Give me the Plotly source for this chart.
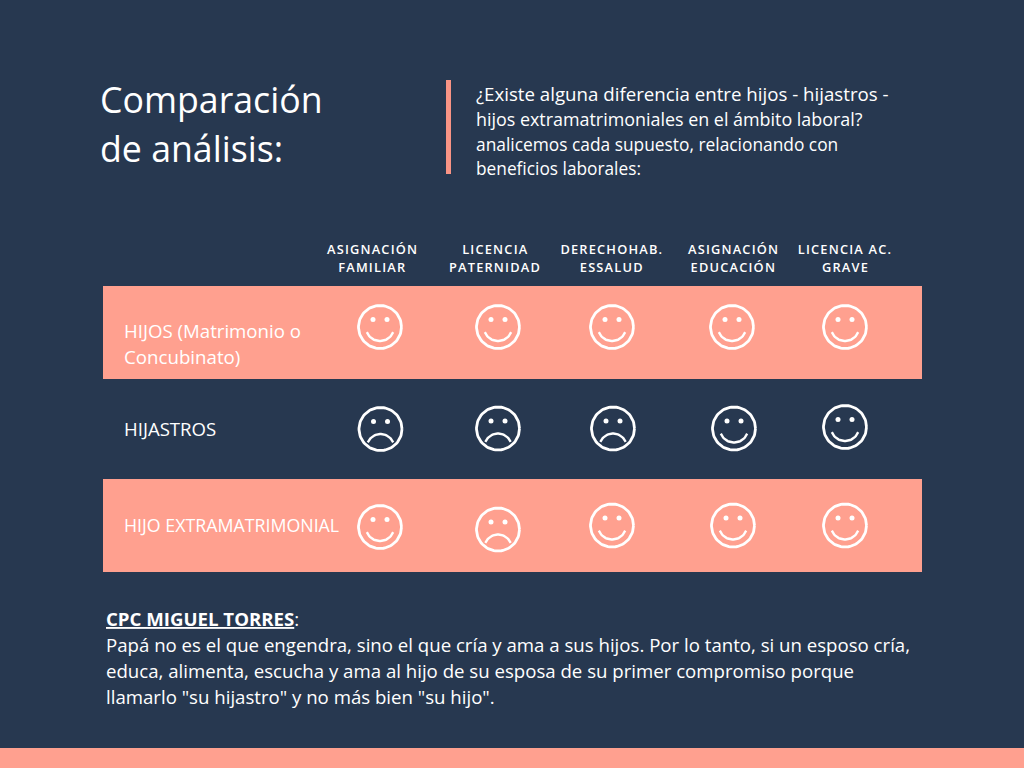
import numpy as np
import plotly.graph_objects as go

# --- data ---
criteria = [["ASIGNACIÓN", "FAMILIAR"], ["LICENCIA", "PATERNIDAD"], ["DERECHOHAB.", "ESSALUD"],
            ["ASIGNACIÓN", "EDUCACIÓN"], ["LICENCIA AC.", "GRAVE"]]
row_labels = [["HIJOS (Matrimonio o", "Concubinato)"], ["HIJASTROS"], ["HIJO EXTRAMATRIMONIAL"]]
happy = [[1, 1, 1, 1, 1],
         [0, 0, 0, 1, 1],
         [1, 0, 1, 1, 1]]
title_lines = ["Comparación", "de análisis:"]
intro_lines = ["¿Existe alguna diferencia entre hijos - hijastros -",
               "hijos extramatrimoniales en el ámbito laboral?",
               "analicemos cada supuesto, relacionando con",
               "beneficios laborales:"]
note_lines = ["<b><u>CPC MIGUEL TORRES</u></b>:",
              "Papá no es el que engendra, sino el que cría y ama a sus hijos. Por lo tanto, si un esposo cría,",
              "educa, alimenta, escucha y ama al hijo de su esposa de su primer compromiso porque",
              "llamarlo \"su hijastro\" y no más bien \"su hijo\"."]

# --- layout ---
BG = "#273850"
SALMON = "#FFA08F"
WHITE = "#FFFFFF"
FONT = "Open Sans"
face_x = [[380, 498, 612, 732, 845],
          [380.5, 498, 613, 734, 845],
          [380, 498, 612, 733, 845]]
face_y = [[327, 327, 327, 327, 327],
          [429, 428.5, 428.5, 428.5, 427],
          [527, 529.5, 525.5, 525.5, 525.5]]
header_x = [372.5, 495, 612, 733.5, 845]
intro_sizes = [18.7, 17.9, 17.35, 17.3]
row_sizes = [[18.65, 18.7], [18.6], [17.8]]
R = 21.5

fig = go.Figure()
t = np.linspace(0, 2 * np.pi, 90)
for r, row in enumerate(happy):
    for c, val in enumerate(row):
        cx, cy = face_x[r][c], face_y[r][c]
        fig.add_trace(go.Scatter(x=cx + R * np.cos(t), y=cy + R * np.sin(t), mode="lines",
                                 line=dict(color=WHITE, width=2.8), hoverinfo="skip"))
        fig.add_trace(go.Scatter(x=[cx - 7, cx + 7], y=[cy - 7.5, cy - 7.5], mode="markers",
                                 marker=dict(color=WHITE, size=5), hoverinfo="skip"))
        if val:
            a = np.linspace(np.radians(20), np.radians(160), 30)
            mx, my = cx + 14 * np.cos(a), cy + 0.5 + 13.5 * np.sin(a)
        else:
            a = np.linspace(np.radians(205), np.radians(335), 30)
            mx, my = cx + 14 * np.cos(a), cy + 19.5 + 14.5 * np.sin(a)
        fig.add_trace(go.Scatter(x=mx, y=my, mode="lines",
                                 line=dict(color=WHITE, width=2.4), hoverinfo="skip"))


def label(x, y, text, size, anchor="left", weight=400):
    fig.add_annotation(x=x, y=y, text=text, xref="x", yref="y", showarrow=False,
                       xanchor=anchor, yanchor="middle", align=anchor,
                       font=dict(family=FONT, size=size, color=WHITE, weight=weight),
                       borderpad=0, borderwidth=0)


for i, line in enumerate(title_lines):
    label(100, 99 + i * 49, line, 35.7)
for i, (line, s) in enumerate(zip(intro_lines, intro_sizes)):
    label(476, 93.5 + i * 25, line, s)
for c, lines in zip(header_x, criteria):
    for i, line in enumerate(lines):
        label(c, 249 + i * 18, line, 12.8, anchor="center", weight=600)
row_y = [[330.5, 356.5], [428], [524.5]]
for ys, lines, sizes in zip(row_y, row_labels, row_sizes):
    for y, line, s in zip(ys, lines, sizes):
        label(123.5, y, line, s)
for i, line in enumerate(note_lines):
    label(106, 618 + i * 26.2, line, 18.64)

rects = [(103, 286, 922, 379, SALMON), (103, 479, 922, 572, SALMON),
         (0, 748, 1024, 768, SALMON), (446, 80, 451, 174, "#F99485")]
for x0, y0, x1, y1, col in rects:
    fig.add_shape(type="rect", x0=x0, y0=y0, x1=x1, y1=y1, xref="x", yref="y",
                  fillcolor=col, line_width=0, layer="below")

fig.update_layout(
    width=1024, height=768, margin=dict(l=0, r=0, t=0, b=0),
    paper_bgcolor=BG, plot_bgcolor=BG, showlegend=False,
    xaxis=dict(range=[0, 1024], visible=False, fixedrange=True),
    yaxis=dict(range=[768, 0], visible=False, fixedrange=True),
)

# Tracking on the column headers (Plotly has no letter-spacing font option)
post = """
document.body.style.margin='0';
document.querySelectorAll('.annotation-text').forEach(function(t){
  if(parseFloat(t.style.fontSize)===12.8){ t.style.letterSpacing='1.2px'; }
});
"""
fig.write_html("out.html", post_script=post, config={"displayModeBar": False})
